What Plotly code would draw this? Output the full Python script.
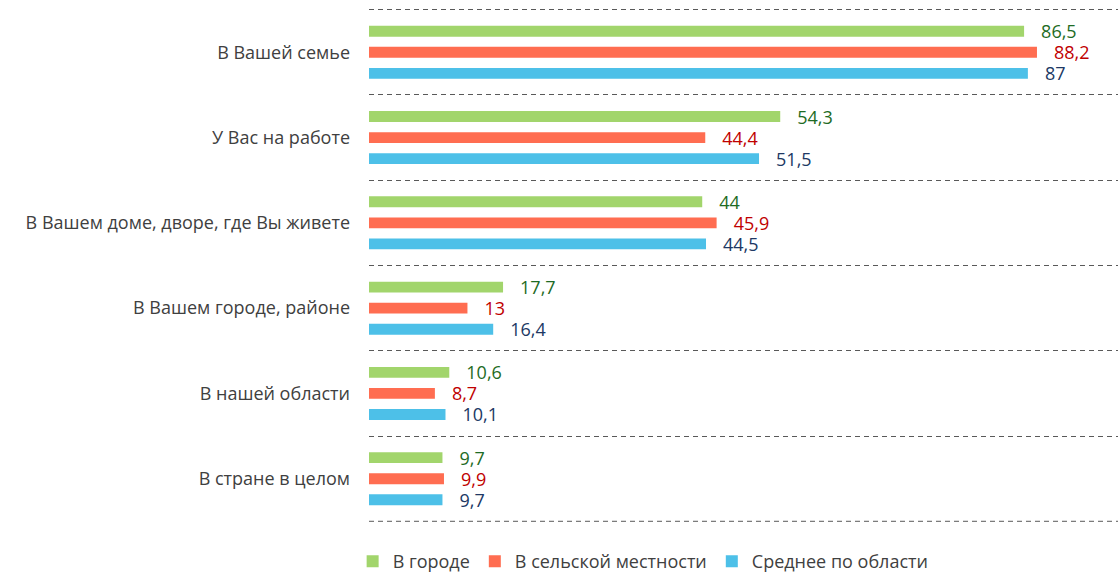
import plotly.graph_objects as go

categories = ["В Вашей семье", "У Вас на работе", "В Вашем доме, дворе, где Вы живете",
              "В Вашем городе, районе", "В нашей области", "В стране в целом"]
series_names = ["В городе", "В сельской местности", "Среднее по области"]
city = [86.5, 54.3, 44, 17.7, 10.6, 9.7]
rural = [88.2, 44.4, 45.9, 13, 8.7, 9.9]
average = [87, 51.5, 44.5, 16.4, 10.1, 9.7]

bar_colors = ["#A2D56C", "#FF6D51", "#4DC0E8"]
text_colors = ["#1E6B24", "#C00000", "#203864"]
FONT = "Open Sans"
GRID = "#595959"
DASH = "5px,4px"

def fmt(v):
    s = ("%g" % v).replace(".", ",")
    return "\u00a0\u00a0\u00a0" + s

fig = go.Figure()
for name, vals, bc, tc in zip(series_names, [city, rural, average], bar_colors, text_colors):
    fig.add_trace(go.Bar(
        y=categories, x=vals, name=name, orientation="h",
        marker=dict(color=bc, line=dict(width=0)),
        text=[fmt(v) for v in vals], textposition="outside",
        constraintext="none",
        textfont=dict(color=tc, size=18, family=FONT),
        cliponaxis=False,
    ))

# bottom boundary gridline (plotly omits the last category boundary)
fig.add_shape(type="line", xref="paper", yref="y", x0=0, x1=1,
              y0=len(categories) - 0.5, y1=len(categories) - 0.5,
              line=dict(color=GRID, width=1, dash=DASH), layer="below")

fig.update_layout(
    width=1118, height=577,
    margin=dict(l=369, r=0, t=8, b=54, autoexpand=False),
    barmode="group", bargap=0.26, bargroupgap=0.48,
    plot_bgcolor="white", paper_bgcolor="white",
    font=dict(family=FONT, size=18, color="#404040"),
    showlegend=True,
    legend=dict(orientation="h", x=0.366, xanchor="center", y=-0.075, yanchor="middle",
                font=dict(size=18, color="#404040"), itemwidth=30, traceorder="normal"),
    xaxis=dict(range=[0, 98.9], visible=False, showgrid=False, zeroline=False, automargin=False),
    yaxis=dict(range=[5.52, -0.52], tickson="boundaries", showgrid=True,
               griddash=DASH, gridcolor=GRID, gridwidth=1, automargin=False,
               ticks="", ticklabelstandoff=18, showline=False, zeroline=False),
)

fig.write_html("out.html", config={"displayModeBar": False},
               post_script="document.body.style.margin='0';document.body.style.padding='0';")
